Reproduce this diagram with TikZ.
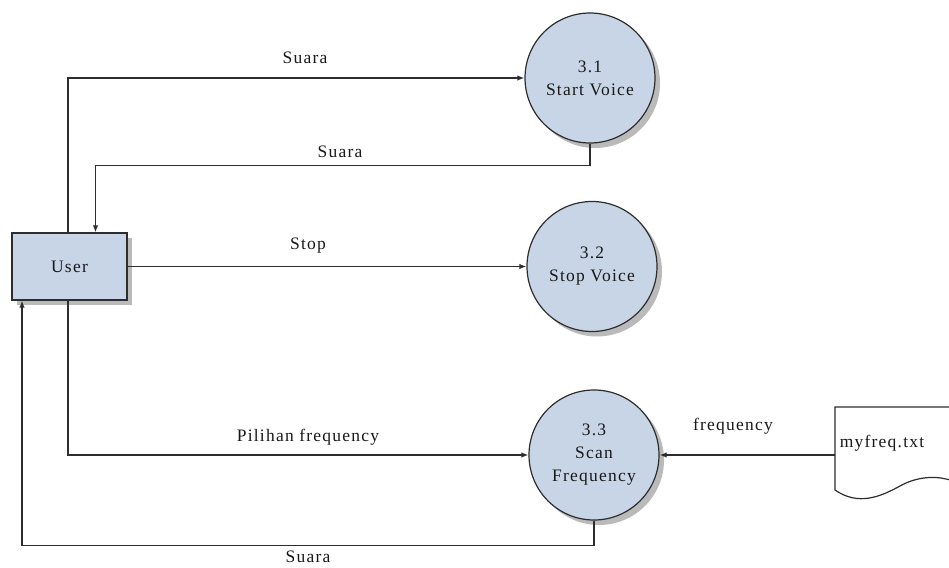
\documentclass[tikz,border=0pt]{standalone}
\usepackage{fontspec}
\setmainfont{Liberation Serif}[LetterSpace=7]
\usetikzlibrary{arrows.meta,shadows}
\definecolor{procfill}{RGB}{200,213,230}
\definecolor{linec}{RGB}{45,45,45}
\begin{document}
\begin{tikzpicture}[x=1pt,y=-1pt,
  txt/.style={font=\fontsize{17.5}{23}\selectfont, text=black!90},
  proc/.style={circle, draw=linec, line width=1.2pt, fill=procfill, minimum size=130pt, inner sep=0pt, align=center, txt,
     drop shadow={shadow xshift=5pt, shadow yshift=-5pt, opacity=0.45, fill=black!60}},
  ent/.style={rectangle, draw=linec, line width=1.2pt, fill=procfill, minimum width=115pt, minimum height=67pt, txt,
     drop shadow={shadow xshift=5pt, shadow yshift=-5pt, opacity=0.45, fill=black!60}},
  flow/.style={draw=linec, line width=1.5pt, -{Latex[length=7pt,width=5.5pt]}},
  lbl/.style={txt, inner sep=1pt}]
\useasboundingbox (0,0) rectangle (949,567);
\fill[white] (0,0) rectangle (949,567);

\node[ent] (user) at (69.5,266.5) {User};
\node[proc] (c1) at (590,78) {3.1\\Start Voice};
\node[proc] (c2) at (592,266.5) {3.2\\Stop Voice};
\node[proc] (c3) at (594,455) {3.3\\Scan\\Frequency};

% data store document
\begin{scope}
\clip (0,0) rectangle (949,567);
\draw[linec, line width=1.2pt, fill=white] (949,407) -- (835,407) -- (835,490)
  .. controls (858,506) and (880,497) .. (900,486)
  .. controls (918,476) and (940,474) .. (960,484) -- (960,407);
\end{scope}
\node[txt] (myfreq) at (882,443) {myfreq.txt};
\coordinate (docleft) at (835,455);

\draw[flow] ([xshift=-1.5pt]user.north) |- (c1.west);
\draw[flow] (c1.south) -- ++(0,22) -| ([xshift=26pt]user.north);
\draw[flow] (user.east) -- (c2.west);
\draw[flow] ([xshift=-1.5pt]user.south) |- (c3.west);
\draw[flow] (c3.south) -- ++(0,25) -| ([xshift=-47.5pt]user.south);
\draw[flow] (docleft) -- (c3.east);

\node[lbl] (l1) at (305,58) {Suara};
\node[lbl] (l2) at (340,152) {Suara};
\node[lbl] (l3) at (308,246) {Stop};
\node[lbl] (l4) at (308,437) {Pilihan frequency};
\node[lbl] (l5) at (733,426) {frequency};
\node[lbl] (l6) at (308,557) {Suara};
\end{tikzpicture}
\end{document}
